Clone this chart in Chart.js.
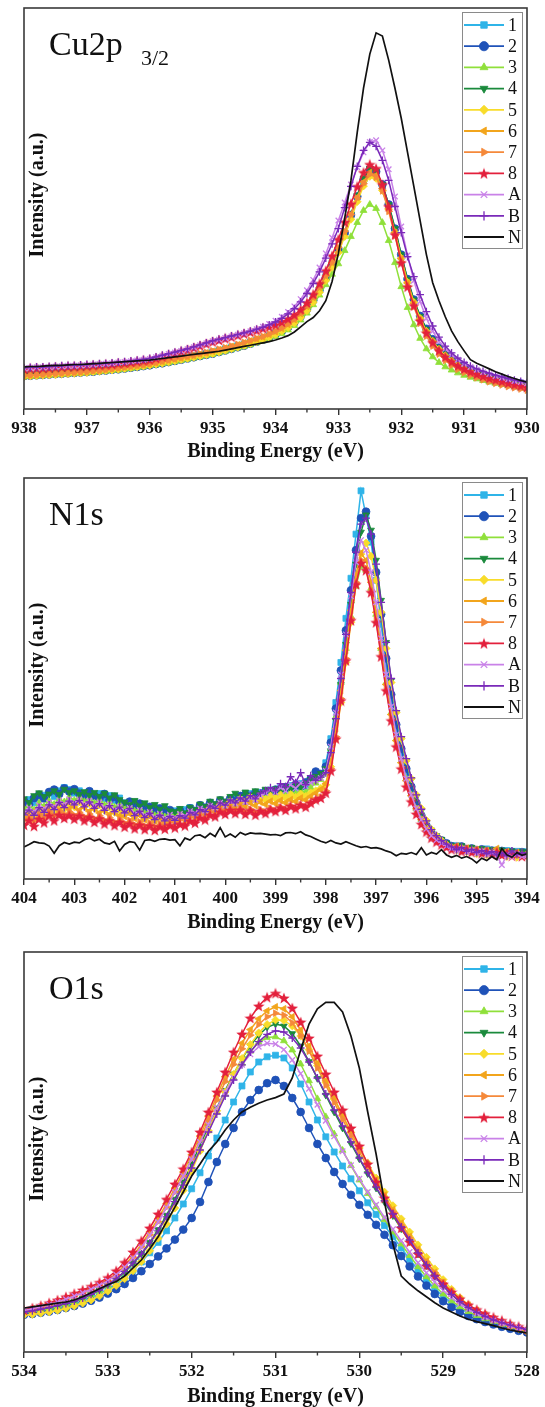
<!DOCTYPE html>
<html>
<head>
<meta charset="utf-8">
<script src="https://cdn.jsdelivr.net/npm/chart.js@4.4.1/dist/chart.umd.min.js"></script>
<style>
  html, body { margin: 0; padding: 0; background: #fff; }
  body { width: 545px; height: 1407px; position: relative; overflow: hidden; }
  canvas { position: absolute; left: 0; }
</style>
</head>
<body>
<canvas id="cuChart" width="545" height="465" style="top:0px"></canvas>
<canvas id="nChart" width="545" height="470" style="top:465px"></canvas>
<canvas id="oChart" width="545" height="472" style="top:935px"></canvas>
<script>
// --- Data (intensity in % of plot height) ---
const seriesNames = ['1', '2', '3', '4', '5', '6', '7', '8', 'A', 'B', 'N'];

// Cu2p 3/2
const cuEnergy = [938.0,937.9,937.8,937.7,937.6,937.5,937.4,937.3,937.2,937.1,
  937.0,936.9,936.8,936.7,936.6,936.5,936.4,936.3,936.2,936.1,
  936.0,935.9,935.8,935.7,935.6,935.5,935.4,935.3,935.2,935.1,
  935.0,934.9,934.8,934.7,934.6,934.5,934.4,934.3,934.2,934.1,
  934.0,933.9,933.8,933.7,933.6,933.5,933.4,933.3,933.2,933.1,
  933.0,932.9,932.8,932.7,932.6,932.5,932.4,932.3,932.2,932.1,
  932.0,931.9,931.8,931.7,931.6,931.5,931.4,931.3,931.2,931.1,
  931.0,930.9,930.8,930.7,930.6,930.5,930.4,930.3,930.2,930.1,
  930.0];
const cu1 = [8.5,8.6,8.7,8.8,8.9,9.0,9.1,9.2,9.3,9.4,
  9.5,9.7,9.8,10.0,10.1,10.3,10.5,10.7,10.9,11.1,
  11.3,11.6,11.8,12.1,12.4,12.7,13.0,13.3,13.6,13.9,
  14.2,14.6,15.0,15.4,15.8,16.2,16.7,17.2,17.7,18.3,
  19.0,19.8,20.8,22.0,23.5,25.3,27.5,30.0,33.0,36.3,
  40.0,44.0,48.5,53.0,57.0,59.5,58.8,55.5,50.5,44.5,
  38.0,32.0,27.0,23.0,19.8,17.2,15.2,13.6,12.3,11.2,
  10.3,9.6,9.0,8.5,8.0,7.6,7.2,6.9,6.6,6.3,
  6.0];
const cu2 = [8.2,8.3,8.4,8.5,8.6,8.7,8.8,8.9,9.0,9.1,
  9.2,9.3,9.5,9.6,9.8,9.9,10.1,10.3,10.5,10.7,
  10.9,11.2,11.4,11.7,12.0,12.3,12.6,12.9,13.2,13.5,
  13.8,14.2,14.6,15.0,15.4,15.8,16.3,16.8,17.3,17.9,
  18.6,19.4,20.4,21.6,23.1,24.9,27.1,29.7,32.7,36.0,
  39.8,43.9,48.4,53.0,57.2,59.8,59.2,56.0,51.0,45.0,
  38.5,32.4,27.3,23.2,20.0,17.4,15.3,13.7,12.4,11.3,
  10.4,9.7,9.1,8.6,8.1,7.7,7.3,7.0,6.7,6.4,
  6.1];
const cu3 = [8.0,8.1,8.2,8.3,8.4,8.5,8.6,8.7,8.8,8.9,
  9.0,9.1,9.3,9.4,9.6,9.7,9.9,10.1,10.3,10.5,
  10.8,11.0,11.3,11.5,11.8,12.1,12.4,12.7,13.0,13.3,
  13.6,14.0,14.4,14.8,15.2,15.6,16.0,16.5,17.0,17.5,
  18.1,18.8,19.7,20.8,22.2,23.9,26.0,28.4,31.0,33.6,
  36.2,39.5,43.0,46.5,49.5,51.0,50.0,46.5,42.0,36.5,
  30.5,25.3,21.0,17.6,15.0,13.0,11.6,10.5,9.7,9.0,
  8.4,7.9,7.5,7.1,6.7,6.4,6.1,5.8,5.5,5.2,
  5.0];
const cu4 = [8.4,8.5,8.6,8.7,8.8,8.9,9.0,9.1,9.2,9.3,
  9.4,9.6,9.7,9.9,10.0,10.2,10.4,10.6,10.8,11.0,
  11.2,11.5,11.7,12.0,12.3,12.6,12.9,13.2,13.5,13.8,
  14.1,14.5,14.9,15.3,15.7,16.1,16.6,17.1,17.6,18.2,
  18.9,19.7,20.7,21.9,23.4,25.2,27.4,29.9,32.9,36.2,
  39.9,44.0,48.6,53.3,57.6,60.0,59.3,56.0,51.0,45.0,
  38.5,32.3,27.2,23.1,19.9,17.3,15.3,13.7,12.4,11.3,
  10.4,9.7,9.1,8.6,8.1,7.7,7.3,7.0,6.7,6.4,
  6.1];
const cu5 = [8.1,8.2,8.3,8.4,8.5,8.6,8.7,8.8,8.9,9.0,
  9.1,9.3,9.4,9.6,9.7,9.9,10.1,10.3,10.5,10.7,
  10.9,11.2,11.4,11.7,12.0,12.3,12.6,12.9,13.2,13.5,
  13.8,14.2,14.6,15.0,15.4,15.8,16.3,16.8,17.3,17.9,
  18.6,19.4,20.3,21.4,22.8,24.5,26.6,29.1,32.0,35.3,
  39.0,43.0,47.3,51.7,55.6,58.0,57.5,54.5,49.8,44.0,
  37.6,31.6,26.6,22.6,19.4,16.9,14.9,13.3,12.0,10.9,
  10.0,9.3,8.7,8.2,7.7,7.3,6.9,6.5,6.2,5.9,
  5.6];
const cu6 = [8.3,8.4,8.5,8.6,8.7,8.8,8.9,9.0,9.1,9.2,
  9.3,9.5,9.6,9.8,10.0,10.2,10.4,10.6,10.8,11.0,
  11.2,11.5,11.8,12.1,12.4,12.7,13.0,13.3,13.7,14.0,
  14.4,14.8,15.2,15.6,16.0,16.5,17.0,17.5,18.0,18.6,
  19.3,20.1,21.1,22.3,23.8,25.6,27.8,30.3,33.2,36.5,
  40.2,44.2,48.5,52.8,56.6,59.0,58.3,55.0,50.0,44.0,
  37.5,31.4,26.3,22.2,19.0,16.5,14.5,12.9,11.7,10.7,
  9.8,9.1,8.5,8.0,7.5,7.1,6.7,6.3,6.0,5.7,
  5.4];
const cu7 = [8.3,8.4,8.5,8.6,8.7,8.8,8.9,9.0,9.1,9.2,
  9.3,9.5,9.6,9.8,10.0,10.2,10.4,10.6,10.8,11.0,
  11.3,11.6,11.9,12.2,12.5,12.8,13.1,13.4,13.8,14.1,
  14.5,14.9,15.3,15.7,16.1,16.6,17.1,17.6,18.1,18.7,
  19.4,20.2,21.2,22.4,23.9,25.7,27.9,30.4,33.3,36.6,
  40.3,44.3,48.5,52.6,56.2,58.5,57.8,54.4,49.3,43.2,
  36.7,30.6,25.5,21.4,18.2,15.7,13.7,12.1,10.9,9.9,
  9.1,8.4,7.8,7.3,6.8,6.4,6.0,5.6,5.3,5.0,
  4.7];
const cu8 = [10.0,10.1,10.2,10.2,10.3,10.4,10.5,10.6,10.6,10.7,
  10.8,10.9,11.0,11.1,11.2,11.4,11.5,11.7,11.9,12.1,
  12.3,12.7,13.1,13.5,13.9,14.4,14.8,15.3,15.8,16.3,
  16.8,17.2,17.6,18.0,18.4,18.8,19.2,19.6,20.1,20.5,
  21.0,21.7,22.5,23.5,24.8,26.5,28.6,31.3,34.5,38.2,
  42.3,46.6,51.2,55.5,59.0,61.0,60.0,56.0,50.5,43.5,
  36.5,30.5,25.8,22.0,19.0,16.6,14.6,13.0,11.8,10.8,
  10.0,9.3,8.7,8.2,7.7,7.3,6.9,6.5,6.1,5.8,
  5.5];
const cuA = [10.2,10.3,10.4,10.4,10.5,10.6,10.7,10.8,10.8,10.9,
  11.0,11.1,11.2,11.3,11.4,11.6,11.7,11.9,12.1,12.3,
  12.5,12.9,13.3,13.7,14.1,14.5,14.9,15.4,15.9,16.4,
  16.9,17.3,17.7,18.1,18.5,18.9,19.4,19.9,20.5,21.2,
  22.0,23.0,24.2,25.6,27.4,29.6,32.2,35.3,38.8,42.7,
  47.0,51.5,56.0,60.3,64.0,66.6,67.0,64.5,59.8,53.0,
  45.5,38.3,32.0,26.8,22.6,19.4,16.9,15.0,13.5,12.3,
  11.3,10.5,9.8,9.2,8.7,8.2,7.8,7.4,7.0,6.7,
  6.4];
const cuB = [10.3,10.4,10.5,10.5,10.6,10.7,10.8,10.9,10.9,11.0,
  11.1,11.2,11.3,11.4,11.5,11.7,11.8,12.0,12.2,12.4,
  12.6,13.0,13.4,13.8,14.2,14.6,15.0,15.5,16.0,16.5,
  17.0,17.4,17.8,18.2,18.6,19.0,19.4,19.9,20.4,21.0,
  21.7,22.6,23.7,25.0,26.7,28.8,31.3,34.2,37.6,41.2,
  45.0,50.2,55.5,60.5,64.5,66.5,65.5,62.0,57.0,50.5,
  44.0,38.0,33.0,28.5,24.3,20.7,17.9,15.7,14.0,12.7,
  11.6,10.7,10.0,9.4,8.9,8.4,8.0,7.6,7.2,6.9,
  6.6];
const cuN = [10.5,10.6,10.6,10.7,10.8,10.9,10.9,11.0,11.1,11.1,
  11.2,11.3,11.4,11.5,11.6,11.7,11.8,11.9,12.0,12.1,
  12.2,12.4,12.6,12.8,13.0,13.2,13.4,13.6,13.8,14.0,
  14.2,14.4,14.7,15.0,15.3,15.6,15.9,16.2,16.5,16.8,
  17.2,17.7,18.3,19.2,20.5,21.8,22.8,24.5,27.0,31.8,
  38.8,47.5,57.0,69.0,80.0,88.5,93.8,93.0,87.0,80.0,
  72.5,64.0,55.5,47.0,38.5,31.5,27.0,23.0,19.5,16.8,
  14.5,12.3,11.4,10.7,10.0,9.3,8.7,8.1,7.6,7.1,
  6.7];

// N1s
const nEnergy = [404.0,403.9,403.8,403.7,403.6,403.5,403.4,403.3,403.2,403.1,
  403.0,402.9,402.8,402.7,402.6,402.5,402.4,402.3,402.2,402.1,
  402.0,401.9,401.8,401.7,401.6,401.5,401.4,401.3,401.2,401.1,
  401.0,400.9,400.8,400.7,400.6,400.5,400.4,400.3,400.2,400.1,
  400.0,399.9,399.8,399.7,399.6,399.5,399.4,399.3,399.2,399.1,
  399.0,398.9,398.8,398.7,398.6,398.5,398.4,398.3,398.2,398.1,
  398.0,397.9,397.8,397.7,397.6,397.5,397.4,397.3,397.2,397.1,
  397.0,396.9,396.8,396.7,396.6,396.5,396.4,396.3,396.2,396.1,
  396.0,395.9,395.8,395.7,395.6,395.5,395.4,395.3,395.2,395.1,
  395.0,394.9,394.8,394.7,394.6,394.5,394.4,394.3,394.2,394.1,394.0];
const n1 = [18.5,19.8,19.0,20.3,20.9,21.5,20.6,22.0,22.8,22.3,
  21.4,22.0,21.0,21.8,20.5,21.3,20.0,20.8,19.6,20.2,
  19.0,18.3,19.2,17.8,18.5,17.2,17.9,16.8,17.5,16.4,
  17.0,16.2,17.3,17.8,16.9,18.2,17.6,18.8,18.1,19.3,
  18.6,19.8,20.5,19.6,20.9,21.3,20.4,21.6,21.0,22.2,
  21.5,22.8,22.1,23.3,22.6,23.8,23.0,24.5,25.3,26.0,
  29.0,35.0,44.0,54.0,65.0,75.0,86.0,96.8,90.5,84.0,
  74.5,63.5,53.0,44.5,37.5,31.5,26.5,22.0,18.0,15.0,
  12.8,11.0,10.2,9.5,8.6,7.8,8.3,7.2,7.6,7.0,
  7.3,6.8,7.5,6.9,7.2,6.6,7.1,6.4,6.9,6.5,6.8];
const n2 = [19.5,18.6,20.2,21.0,20.1,21.7,22.3,21.2,22.6,21.8,
  22.4,21.3,20.7,21.9,20.8,20.1,21.2,19.7,20.5,19.2,
  18.4,19.3,17.9,18.8,17.4,18.0,16.9,17.6,16.6,17.2,
  16.3,17.1,16.0,17.6,17.0,18.4,17.8,19.0,18.3,19.6,
  19.0,20.1,19.4,20.7,21.1,20.3,21.5,20.8,21.9,21.4,
  22.3,21.6,22.9,22.2,23.5,23.0,24.1,25.0,26.8,26.2,
  28.0,34.0,42.5,52.0,62.0,72.0,82.0,90.0,91.6,85.5,
  76.5,66.0,55.0,46.0,38.5,32.5,27.5,23.0,19.0,15.8,
  13.3,11.5,10.4,9.6,8.9,8.2,7.7,8.1,7.3,7.6,
  6.9,7.4,6.7,7.1,6.5,7.0,6.3,6.8,6.2,6.7,6.4];
const n3 = [17.5,18.4,17.2,19.0,18.1,19.5,18.6,20.0,19.2,20.4,
  19.6,20.5,19.3,20.1,18.9,19.7,18.4,19.2,17.9,18.6,
  17.5,18.2,16.9,17.6,16.3,17.1,15.8,16.6,15.5,16.3,
  15.7,16.5,15.9,16.8,16.2,17.3,16.8,17.9,17.4,18.5,
  18.0,19.1,18.6,19.6,19.1,20.2,19.7,20.6,20.1,21.0,
  20.5,21.4,20.9,21.8,21.2,22.1,21.6,22.8,23.9,24.8,
  26.5,32.5,40.5,49.0,57.5,65.5,73.0,78.0,77.0,72.5,
  66.0,57.5,49.0,41.5,35.0,29.5,25.0,21.0,17.5,14.8,
  12.6,11.0,10.0,9.3,8.5,8.0,7.4,7.8,7.0,7.4,
  6.8,7.2,6.5,7.0,6.4,6.9,6.2,6.7,6.1,6.6,6.3];
const n4 = [20.0,19.1,20.8,21.5,20.6,21.2,22.0,21.1,22.4,21.6,
  22.0,21.1,21.8,20.9,21.6,20.6,21.4,20.2,21.0,19.8,
  19.2,18.5,19.6,18.2,19.0,17.8,18.6,17.4,18.3,17.0,
  16.8,17.6,16.5,17.9,17.3,18.7,18.1,19.4,18.8,20.0,
  19.4,20.6,21.4,20.5,21.7,20.9,22.0,21.3,22.4,21.7,
  22.5,21.8,23.0,22.4,23.6,22.9,24.0,24.8,25.6,26.3,
  27.5,32.0,39.5,48.5,58.5,68.5,78.5,86.5,90.8,87.0,
  79.5,69.5,59.0,49.5,41.5,35.0,29.5,24.8,20.5,17.0,
  14.2,12.2,10.8,9.9,9.0,8.4,7.8,8.3,7.5,7.9,
  7.1,7.6,6.9,7.3,6.7,7.2,6.5,7.0,6.4,6.9,6.6];
const n5 = [15.0,16.3,15.5,17.0,16.2,17.8,16.9,18.3,17.4,18.9,
  18.0,19.2,18.3,18.8,17.6,18.4,17.1,17.9,16.6,17.3,
  16.2,16.9,15.6,16.4,15.1,15.9,14.7,15.5,14.4,15.2,
  14.8,15.6,15.1,16.2,15.8,17.0,16.6,17.8,17.3,18.6,
  18.1,19.3,18.7,19.9,19.2,20.4,19.6,20.5,19.8,20.7,
  20.1,21.0,20.2,21.1,20.4,21.2,20.6,21.5,22.0,22.6,
  23.5,28.0,35.0,44.0,54.0,64.0,73.5,81.0,83.8,80.5,
  74.5,66.5,57.5,49.0,41.5,35.0,29.5,25.0,21.0,17.6,
  14.6,12.4,10.8,9.6,8.6,7.8,7.2,7.7,6.8,7.2,
  6.3,6.8,6.0,6.5,5.8,6.3,5.6,6.1,5.4,5.9,5.7];
const n6 = [16.0,15.2,16.8,16.0,17.5,16.6,18.0,17.1,18.4,17.5,
  18.1,17.2,17.9,16.9,17.6,16.5,17.2,16.1,16.8,15.8,
  15.6,16.3,15.1,15.9,14.8,15.6,14.5,15.3,14.3,15.0,
  14.6,15.4,14.9,16.0,15.6,16.8,16.3,17.5,17.0,18.2,
  17.6,18.6,17.9,18.9,18.2,19.0,18.3,19.2,18.6,19.4,
  18.8,19.6,19.0,19.8,19.3,20.2,19.7,20.6,21.4,22.3,
  23.8,29.5,37.5,47.0,57.0,67.0,76.0,81.3,79.5,74.0,
  66.5,57.5,48.5,41.0,34.5,29.0,24.5,20.8,17.5,14.8,
  12.6,10.9,9.8,9.0,8.3,7.7,8.2,7.2,7.7,6.9,
  7.3,6.6,7.1,6.4,7.6,6.2,6.8,6.0,6.6,5.9,6.2];
const n7 = [14.8,15.6,14.5,16.2,15.3,16.9,15.8,17.0,16.1,16.8,
  15.9,16.6,15.5,16.2,15.0,15.8,14.6,15.3,14.1,14.9,
  13.9,14.6,13.5,14.3,13.2,14.0,13.0,13.8,13.4,14.3,
  13.9,14.8,14.4,15.5,15.1,16.2,15.8,16.9,16.5,17.4,
  16.8,17.7,16.9,17.6,16.6,17.4,16.5,17.3,16.7,17.6,
  17.0,17.9,17.3,18.2,17.6,18.5,18.0,18.9,19.6,20.4,
  22.0,27.5,35.5,45.0,55.0,65.0,74.0,79.5,77.5,72.0,
  64.5,56.0,47.5,40.0,33.5,28.0,23.5,19.8,16.6,14.0,
  12.0,10.5,9.5,8.8,8.1,7.5,7.9,7.0,7.5,6.8,
  7.2,6.5,7.0,6.3,6.8,6.1,6.6,5.9,6.4,5.8,6.0];
const n8 = [13.5,14.6,13.2,15.0,14.1,15.8,14.6,16.0,15.2,15.9,
  15.0,15.8,14.6,15.4,14.2,15.1,13.8,14.6,13.4,14.2,
  13.0,13.8,12.6,13.5,12.4,13.3,12.2,13.1,12.5,13.4,
  12.8,13.7,13.3,14.5,14.0,15.3,14.8,16.0,15.6,16.8,
  16.2,17.2,16.4,17.3,16.2,17.1,16.0,17.0,16.4,17.4,
  16.9,17.8,17.2,18.2,17.6,18.5,18.0,19.0,19.8,20.2,
  21.5,27.0,35.0,44.5,54.5,64.5,73.5,78.8,77.0,71.5,
  64.0,55.5,47.0,39.5,33.0,27.5,23.0,19.3,16.2,13.7,
  11.8,10.3,9.3,8.6,8.0,7.4,7.9,6.9,7.4,6.7,
  7.1,6.4,6.9,6.2,6.7,6.0,6.5,5.8,6.3,5.7,5.9];
const nA = [16.5,17.8,16.8,18.4,17.5,19.0,18.1,19.6,18.7,19.9,
  19.0,19.8,18.7,19.5,18.3,19.1,17.8,18.6,17.2,18.0,
  16.9,17.7,16.3,17.2,15.9,16.7,15.4,16.3,15.2,16.0,
  15.3,16.2,15.7,16.9,16.4,17.6,17.1,18.3,17.8,19.0,
  18.3,19.4,18.8,19.9,19.2,20.3,19.7,20.8,21.5,22.3,
  21.6,22.8,22.0,23.5,22.6,23.9,23.1,24.0,24.6,25.2,
  27.0,33.0,41.5,51.0,61.0,70.5,79.0,84.5,82.0,76.5,
  69.0,60.0,51.0,43.0,36.0,30.0,25.0,21.0,17.6,14.8,
  12.5,10.8,9.7,8.9,8.2,7.6,7.1,7.5,6.7,7.1,
  6.4,6.9,6.1,6.6,5.9,3.5,6.0,5.5,6.2,5.6,5.8];
const nB = [16.0,17.2,15.9,17.8,16.6,18.5,17.3,19.1,17.8,19.4,
  18.5,19.6,18.0,19.2,17.6,18.8,17.1,18.3,16.8,17.9,
  16.5,17.6,15.8,16.9,15.3,16.4,14.8,15.9,14.5,15.6,
  14.6,15.8,15.2,16.6,16.0,17.3,16.8,18.2,17.6,19.0,
  18.4,19.7,19.0,20.2,19.4,20.8,20.0,21.4,22.0,22.8,
  22.0,23.8,23.0,25.5,24.0,26.5,23.5,25.8,24.6,25.4,
  26.5,31.5,40.0,50.0,61.0,71.5,81.5,88.5,90.0,86.0,
  78.5,69.0,59.0,50.0,42.0,35.5,30.0,25.2,21.0,17.4,
  14.5,12.3,10.8,9.6,8.7,8.0,7.3,7.9,6.9,7.4,
  6.6,7.1,6.3,6.8,6.0,6.5,5.8,7.0,6.1,6.6,6.2];
const nN = [8.0,8.6,9.3,9.0,8.9,8.2,6.4,8.3,9.1,8.7,
  9.2,9.0,9.8,10.2,9.5,9.9,9.0,8.7,9.4,7.0,
  8.6,9.3,9.1,7.2,9.6,9.8,9.4,9.9,10.0,9.7,
  9.8,8.3,10.2,9.7,10.8,11.0,10.3,11.4,10.6,12.8,
  10.5,11.2,10.4,11.6,11.0,11.5,11.3,11.4,11.2,11.0,
  11.1,10.8,11.5,11.6,11.3,11.8,11.0,10.6,10.0,9.4,
  9.0,9.6,9.0,8.7,9.3,8.8,8.3,7.9,8.1,7.7,
  7.8,7.5,7.0,6.6,5.8,6.4,6.2,6.6,6.1,7.8,
  6.0,6.6,6.2,7.3,6.0,5.4,5.9,5.2,5.6,5.0,
  4.0,5.2,4.6,5.6,4.8,7.6,6.0,5.4,6.6,5.9,6.3];

// O1s
const oEnergy = [534.0,533.9,533.8,533.7,533.6,533.5,533.4,533.3,533.2,533.1,
  533.0,532.9,532.8,532.7,532.6,532.5,532.4,532.3,532.2,532.1,
  532.0,531.9,531.8,531.7,531.6,531.5,531.4,531.3,531.2,531.1,
  531.0,530.9,530.8,530.7,530.6,530.5,530.4,530.3,530.2,530.1,
  530.0,529.9,529.8,529.7,529.6,529.5,529.4,529.3,529.2,529.1,
  529.0,528.9,528.8,528.7,528.6,528.5,528.4,528.3,528.2,528.1,
  528.0];
const o1 = [9.6,9.9,10.2,10.6,11.0,11.5,12.1,12.8,13.6,14.6,
  15.7,17.0,18.6,20.4,22.5,24.8,27.4,30.3,33.5,37.0,
  40.8,44.8,49.0,53.5,58.0,62.5,66.5,70.0,72.5,73.8,
  74.2,73.5,71.0,67.0,62.5,58.0,53.8,50.0,46.5,43.3,
  40.3,37.3,34.4,31.6,28.8,26.0,23.2,20.5,18.0,15.8,
  13.9,12.3,10.9,9.8,8.9,8.1,7.4,6.8,6.2,5.7,
  5.2];
const o2 = [9.3,9.5,9.8,10.1,10.5,11.0,11.5,12.1,12.8,13.6,
  14.6,15.7,17.0,18.5,20.2,22.0,23.9,25.9,28.1,30.6,
  33.5,37.5,42.5,47.5,52.0,56.0,60.0,63.0,65.5,67.2,
  68.0,66.5,63.5,60.0,56.0,52.0,48.5,45.0,42.0,39.3,
  36.8,34.3,31.8,29.3,26.7,24.0,21.4,18.9,16.6,14.5,
  12.7,11.2,10.0,9.0,8.2,7.5,6.9,6.3,5.8,5.3,
  4.9];
const o3 = [9.8,10.1,10.5,10.9,11.4,11.9,12.5,13.3,14.2,15.3,
  16.6,18.1,19.9,22.0,24.4,27.1,30.2,33.7,37.5,41.6,
  46.0,50.6,55.3,60.0,64.5,68.6,72.2,75.2,77.4,78.6,
  78.8,77.8,75.5,72.0,67.8,63.3,58.8,54.5,50.4,46.6,
  43.0,39.6,36.3,33.1,30.0,27.0,24.1,21.3,18.8,16.5,
  14.5,12.8,11.3,10.1,9.1,8.3,7.6,6.9,6.3,5.8,
  5.3];
const o4 = [10.0,10.3,10.7,11.1,11.6,12.1,12.7,13.5,14.4,15.5,
  16.8,18.3,20.1,22.2,24.6,27.4,30.6,34.2,38.2,42.5,
  47.0,51.7,56.4,61.0,65.4,69.5,73.3,76.6,79.2,81.2,
  82.0,81.5,79.6,76.5,72.6,68.4,64.2,60.0,56.0,52.1,
  48.3,44.6,41.0,37.5,34.1,30.8,27.6,24.5,21.6,18.9,
  16.5,14.4,12.6,11.1,9.9,8.9,8.0,7.3,6.6,6.0,
  5.5];
const o5 = [9.2,9.4,9.7,10.0,10.4,10.9,11.5,12.2,13.0,14.0,
  15.2,16.6,18.3,20.3,22.6,25.3,28.4,32.0,36.0,40.4,
  45.2,50.2,55.3,60.3,65.0,69.4,73.4,76.9,79.8,81.9,
  83.0,82.9,81.5,79.0,75.6,71.6,67.4,63.2,59.0,54.9,
  51.0,47.2,43.5,40.0,36.6,33.3,30.0,26.8,23.7,20.8,
  18.1,15.7,13.6,11.8,10.3,9.1,8.1,7.2,6.5,5.8,
  5.2];
const o6 = [10.3,10.8,11.4,12.0,12.7,13.4,14.2,15.0,15.9,16.9,
  18.0,19.6,21.6,24.1,26.9,30.0,33.4,37.1,41.0,45.0,
  49.3,54.0,59.0,64.0,68.8,73.2,77.2,80.6,83.3,85.3,
  86.3,85.8,83.8,80.5,76.5,72.2,67.8,63.5,59.2,55.0,
  50.9,46.9,43.0,39.2,35.6,32.2,28.9,25.7,22.7,19.9,
  17.4,15.2,13.3,11.7,10.4,9.3,8.3,7.4,6.7,6.0,
  5.4];
const o7 = [10.2,10.7,11.2,11.8,12.5,13.2,14.0,14.8,15.7,16.7,
  17.8,19.3,21.2,23.6,26.3,29.3,32.6,36.2,40.0,44.0,
  48.3,53.0,58.0,63.0,67.6,71.9,75.8,79.2,81.9,83.8,
  84.7,84.2,82.3,79.1,75.2,71.0,66.7,62.4,58.2,54.1,
  50.0,46.1,42.3,38.6,35.1,31.7,28.5,25.4,22.5,19.8,
  17.3,15.1,13.2,11.6,10.3,9.2,8.2,7.3,6.6,5.9,
  5.3];
const o8 = [10.5,11.0,11.6,12.3,13.0,13.8,14.6,15.5,16.4,17.4,
  18.6,20.3,22.4,25.0,27.8,31.0,34.5,38.2,42.0,45.8,
  50.0,55.0,60.0,65.0,70.0,75.0,79.5,83.5,86.5,88.7,
  89.7,88.5,86.0,82.5,78.5,74.0,69.5,65.0,60.5,56.0,
  51.5,47.0,42.5,38.5,34.5,31.0,27.5,24.5,21.5,19.0,
  17.0,15.0,13.3,11.8,10.6,9.6,8.7,7.9,7.1,6.4,
  5.8];
const oA = [10.4,10.8,11.3,11.9,12.5,13.2,14.0,14.8,15.7,16.7,
  17.8,19.3,21.2,23.5,26.2,29.2,32.5,36.1,40.0,44.0,
  48.2,52.5,56.8,61.0,65.0,68.6,71.8,74.4,76.3,77.2,
  77.0,75.6,73.0,69.6,65.8,61.8,57.8,53.9,50.2,46.7,
  43.3,40.0,36.8,33.7,30.7,27.8,25.0,22.3,19.8,17.5,
  15.4,13.6,12.0,10.7,9.6,8.7,7.9,7.2,6.6,6.0,
  5.5];
const oB = [10.0,10.3,10.7,11.1,11.6,12.1,12.7,13.5,14.4,15.5,
  16.8,18.3,20.1,22.2,24.5,27.2,30.3,33.8,37.6,41.7,
  46.0,50.5,55.0,59.5,64.0,68.0,71.8,75.0,77.6,79.4,
  80.3,80.0,78.5,76.0,72.5,68.5,64.5,60.5,56.5,52.5,
  48.5,44.8,41.2,37.8,34.5,31.3,28.0,24.8,21.8,19.0,
  16.5,14.4,12.6,11.1,9.9,8.9,8.0,7.3,6.7,6.1,
  5.6];
const oN = [11.0,11.3,11.6,11.9,12.2,12.5,13.0,13.8,14.8,15.8,
  16.8,17.6,19.0,21.0,23.0,25.8,28.8,32.5,36.2,40.0,
  44.0,47.0,50.2,52.5,55.5,58.0,60.0,61.2,62.2,63.0,
  63.6,64.5,68.5,75.5,82.0,85.8,87.4,87.4,85.0,79.0,
  71.0,60.0,49.5,37.5,27.0,19.0,17.0,15.3,13.8,12.3,
  11.0,10.0,9.0,8.2,7.6,7.1,6.6,6.0,5.5,5.1,
  4.8];

// --- Styles ---
const seriesColors = ['#2fb4e8', '#1f52b8', '#8fe03a', '#1a8a3c', '#f8dc2a', '#f2a51c',
  '#f5893a', '#e3203c', '#c982e8', '#7a2ab9', '#111111'];

function starImage(color, size) {
  const c = document.createElement('canvas');
  c.width = size; c.height = size;
  const g = c.getContext('2d');
  const m = size / 2;
  g.fillStyle = color;
  g.beginPath();
  for (let i = 0; i < 10; i++) {
    const r = i % 2 ? m * 0.42 : m;
    const a = -Math.PI / 2 + i * Math.PI / 5;
    g.lineTo(m + r * Math.cos(a), m + 0.6 + r * Math.sin(a));
  }
  g.closePath(); g.fill();
  return c;
}

const markers = [
  { style: 'rect', rot: 0 },
  { style: 'circle', rot: 0 },
  { style: 'triangle', rot: 0 },
  { style: 'triangle', rot: 180 },
  { style: 'rectRot', rot: 0 },
  { style: 'triangle', rot: -90 },
  { style: 'triangle', rot: 90 },
  { style: starImage('#e3203c', 12), rot: 0 },
  { style: 'crossRot', rot: 0 },
  { style: 'cross', rot: 0 },
  { style: false, rot: 0 }
];

const serif = '"Liberation Serif", "Times New Roman", serif';

function makeDatasets(energy, rows) {
  return rows.map((vals, i) => ({
    label: seriesNames[i],
    data: vals.map((v, k) => ({ x: energy[k], y: v })),
    borderColor: seriesColors[i],
    backgroundColor: seriesColors[i],
    borderWidth: i === 10 ? 1.7 : 1.5,
    pointStyle: markers[i].style,
    pointRotation: markers[i].rot,
    pointRadius: i === 10 ? 0 : (i === 0 ? 4.2 : 3.9),
    pointBorderWidth: (i === 8 || i === 9) ? 1.3 : 0.8,
    pointBackgroundColor: seriesColors[i],
    pointBorderColor: seriesColors[i],
    tension: 0,
    order: 11 - i
  }));
}

// --- Frame, minor ticks, labels and legend ---
const framePlugin = {
  id: 'frame',
  afterDraw(chart, args, opts) {
    const ctx = chart.ctx;
    const a = chart.chartArea;
    const x = chart.scales.x;
    ctx.save();
    ctx.strokeStyle = '#3a3a3a';
    ctx.lineWidth = 1.6;
    ctx.strokeRect(a.left, a.top, a.right - a.left, a.bottom - a.top);

    ctx.lineWidth = 1.4;
    for (let v = x.min + 0.5; v < x.max; v += 1) {
      const px = x.getPixelForValue(v);
      ctx.beginPath(); ctx.moveTo(px, a.bottom); ctx.lineTo(px, a.bottom + 3.5); ctx.stroke();
    }

    // panel label
    ctx.fillStyle = '#111';
    ctx.textAlign = 'left';
    ctx.textBaseline = 'alphabetic';
    ctx.font = '34px ' + serif;
    ctx.fillText(opts.label, a.left + 25, a.top + 47);
    if (opts.sub) {
      ctx.font = '22px ' + serif;
      ctx.fillText(opts.sub, a.left + 117, a.top + 57);
    }

    // y title, drawn inside the frame
    ctx.save();
    ctx.translate(a.left + 14, a.top + 187);
    ctx.rotate(-Math.PI / 2);
    ctx.font = 'bold 20px ' + serif;
    ctx.textAlign = 'center';
    ctx.textBaseline = 'middle';
    ctx.fillText('Intensity (a.u.)', 0, 0);
    ctx.restore();

    // legend box
    const bx = a.right - 65, by = a.top + 4, bw = 60, bh = 236;
    ctx.fillStyle = '#fff';
    ctx.fillRect(bx, by, bw, bh);
    ctx.strokeStyle = '#8a8a8a';
    ctx.lineWidth = 1;
    ctx.strokeRect(bx + 0.5, by + 0.5, bw, bh);
    chart.data.datasets.forEach((ds, i) => {
      const y = by + 13 + i * 21.2;
      ctx.strokeStyle = ds.borderColor;
      ctx.lineWidth = 1.8;
      ctx.beginPath(); ctx.moveTo(bx + 2, y); ctx.lineTo(bx + 42, y); ctx.stroke();
      if (ds.pointRadius) {
        ctx.fillStyle = ds.pointBackgroundColor;
        ctx.lineWidth = ds.pointBorderWidth;
        Chart.helpers.drawPoint(ctx, {
          pointStyle: ds.pointStyle, rotation: ds.pointRotation,
          radius: 4.6, borderWidth: ds.pointBorderWidth
        }, bx + 22, y);
      }
      ctx.fillStyle = '#111';
      ctx.font = '18px ' + serif;
      ctx.textAlign = 'left';
      ctx.textBaseline = 'middle';
      ctx.fillText(ds.label, bx + 46, y + 1);
    });
    ctx.restore();
  }
};

function makeChart(id, energy, rows, minE, maxE, label, sub, padTop, axisH, titlePad) {
  return new Chart(document.getElementById(id), {
    type: 'line',
    data: { datasets: makeDatasets(energy, rows) },
    options: {
      responsive: false,
      animation: false,
      devicePixelRatio: 1,
      layout: { padding: { left: 24, right: 18, top: padTop, bottom: 0 } },
      plugins: {
        legend: { display: false },
        tooltip: { enabled: false },
        frame: { label: label, sub: sub }
      },
      scales: {
        x: {
          type: 'linear', reverse: true, min: minE, max: maxE,
          afterFit: s => { s.height = axisH; },
          ticks: {
            stepSize: 1, autoSkip: false, maxRotation: 0, padding: 3,
            color: '#111', font: { family: serif, size: 17, weight: 'bold' },
            callback: v => String(v)
          },
          grid: { drawOnChartArea: false, drawTicks: true, tickLength: 6, color: '#333', lineWidth: 1.4 },
          border: { display: false },
          title: {
            display: true, text: 'Binding Energy (eV)', color: '#111',
            font: { family: serif, size: 20, weight: 'bold' },
            padding: { top: 0, bottom: titlePad }
          }
        },
        y: { display: false, min: 0, max: 100 }
      }
    },
    plugins: [framePlugin]
  });
}

makeChart('cuChart', cuEnergy, [cu1, cu2, cu3, cu4, cu5, cu6, cu7, cu8, cuA, cuB, cuN],
  930, 938, 'Cu2p', '3/2', 8, 56, 1);
makeChart('nChart', nEnergy, [n1, n2, n3, n4, n5, n6, n7, n8, nA, nB, nN],
  394, 404, 'N1s', '', 13, 56, 0);
makeChart('oChart', oEnergy, [o1, o2, o3, o4, o5, o6, o7, o8, oA, oB, oN],
  528, 534, 'O1s', '', 17, 55, -2);
</script>
</body>
</html>
